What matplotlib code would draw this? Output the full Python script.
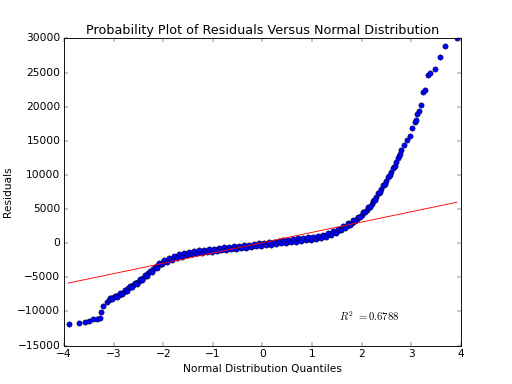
import matplotlib
matplotlib.use('Agg')
import matplotlib.pyplot as plt

# Lower tail (sparse points)
tail_lo_x = [-3.90, -3.69, -3.58, -3.49, -3.41, -3.34, -3.28, -3.25, -3.21, -3.14]
tail_lo_y = [-11840, -11640, -11540, -11400, -11150, -11050, -10900, -10130, -9200, -8570]

# Dense central band (centre of the band)
band_x = [-3.10, -3.05, -3.00, -2.95, -2.90, -2.85, -2.80, -2.75, -2.70, -2.65,
          -2.60, -2.55, -2.50, -2.45, -2.40, -2.35, -2.30, -2.25, -2.20, -2.15,
          -2.10, -2.05, -2.00, -1.95, -1.90, -1.85, -1.80, -1.75, -1.70, -1.65,
          -1.60, -1.55, -1.50, -1.45, -1.40, -1.35, -1.30, -1.25, -1.20, -1.15,
          -1.10, -1.05, -1.00, -0.95, -0.90, -0.85, -0.80, -0.75, -0.70, -0.65,
          -0.60, -0.55, -0.50, -0.45, -0.40, -0.35, -0.30, -0.25, -0.20, -0.15,
          -0.10, -0.05, 0.00, 0.05, 0.10, 0.15, 0.20, 0.25, 0.30, 0.35,
          0.40, 0.45, 0.50, 0.55, 0.60, 0.65, 0.70, 0.75, 0.80, 0.85,
          0.90, 0.95, 1.00, 1.05, 1.10, 1.15, 1.20, 1.25, 1.30, 1.35,
          1.40, 1.45, 1.50, 1.55, 1.60, 1.65, 1.70, 1.75, 1.80, 1.85,
          1.90, 1.95, 2.00, 2.05, 2.10, 2.15, 2.20, 2.25, 2.30, 2.35,
          2.40, 2.45, 2.50, 2.55, 2.60, 2.65, 2.70, 2.75, 2.80]
band_y = [-8300, -8100, -7950, -7780, -7590, -7370, -7130, -6890, -6620, -6360,
          -6140, -5900, -5620, -5330, -5030, -4720, -4430, -4130, -3830, -3520,
          -3240, -3000, -2800, -2620, -2440, -2280, -2140, -2010, -1890, -1790,
          -1700, -1610, -1530, -1460, -1390, -1330, -1270, -1220, -1170, -1120,
          -1080, -1040, -1000, -960, -920, -880, -840, -800, -760, -720,
          -680, -630, -590, -550, -510, -470, -430, -380, -340, -290,
          -250, -200, -160, -115, -70, -25, 20, 65, 110, 155,
          200, 245, 290, 335, 380, 425, 470, 515, 560, 605,
          650, 700, 750, 800, 860, 930, 1010, 1110, 1220, 1340,
          1480, 1630, 1800, 1980, 2170, 2370, 2580, 2800, 3030, 3270,
          3530, 3810, 4150, 4500, 4900, 5320, 5780, 6280, 6820, 7400,
          7980, 8530, 9100, 9800, 10500, 11150, 11900, 12800, 13600]

# Band edges (scatter above / below the centre)
edge_x = [-3.075, -3.025, -2.975, -2.925, -2.875, -2.825, -2.775, -2.725, -2.675, -2.625,
          -2.575, -2.525, -2.475, -2.425, -2.375, -2.325, -2.275, -2.225, -2.175, -2.125,
          -2.075, -2.025, -1.975, -1.925, -1.875, -1.825, -1.775, -1.725, -1.675, -1.625,
          -1.575, -1.525, -1.475, -1.425, -1.375, -1.325, -1.275, -1.225, -1.175, -1.125,
          -1.075, -1.025, -0.975, -0.925, -0.875, -0.825, -0.775, -0.725, -0.675, -0.625,
          -0.575, -0.525, -0.475, -0.425, -0.375, -0.325, -0.275, -0.225, -0.175, -0.125,
          -0.075, -0.025, 0.025, 0.075, 0.125, 0.175, 0.225, 0.275, 0.325, 0.375,
          0.425, 0.475, 0.525, 0.575, 0.625, 0.675, 0.725, 0.775, 0.825, 0.875,
          0.925, 0.975, 1.025, 1.075, 1.125, 1.175, 1.225, 1.275, 1.325, 1.375,
          1.425, 1.475, 1.525, 1.575, 1.625, 1.675, 1.725, 1.775, 1.825, 1.875,
          1.925, 1.975, 2.025, 2.075, 2.125, 2.175, 2.225, 2.275, 2.325, 2.375,
          2.425, 2.475, 2.525, 2.575, 2.625, 2.675, 2.725, 2.775]
edge_y = [-8000, -8230, -7670, -7890, -7280, -7450, -6810, -6960, -6290, -6450,
          -5820, -5960, -5280, -5380, -4680, -4780, -4080, -4180, -3480, -3580,
          -2920, -3100, -2510, -2730, -2160, -2410, -1880, -2150, -1640, -1950,
          -1460, -1770, -1300, -1630, -1160, -1500, -1050, -1400, -950, -1300,
          -860, -1220, -780, -1140, -700, -1060, -620, -980, -540, -900,
          -455, -810, -370, -730, -290, -650, -205, -560, -115, -470,
          -25, -380, 63, -292, 153, -202, 242, -113, 332, -23,
          422, 67, 512, 157, 602, 247, 692, 337, 782, 427,
          875, 525, 975, 630, 1095, 770, 1260, 965, 1480, 1210,
          1755, 1515, 2090, 1875, 2470, 2275, 2890, 2715, 3350, 3200,
          3870, 3780, 4525, 4500, 5310, 5350, 6230, 6350, 7310, 7490,
          8455, 8615, 9650, 9950, 11025, 11325, 12550, 13000]

# Upper tail (sparse points)
tail_hi_x = [2.85, 2.91, 2.97, 3.02, 3.07, 3.10, 3.12, 3.16, 3.20, 3.24,
             3.28, 3.33, 3.38, 3.48, 3.58, 3.69, 3.92]
tail_hi_y = [14380, 15120, 15700, 16830, 17800, 18050, 18920, 19410, 20240, 22150,
             22440, 24590, 24970, 25520, 27230, 28890, 30010]

# Least-squares fit line
line_x = [-3.92, 3.92]
line_y = [-5850, 6000]
r2_text = r'$R^2$ $=0.6788$'

plt.style.use('classic')
fig, ax = plt.subplots(figsize=(8, 6))

ax.plot(tail_lo_x + band_x + tail_hi_x, tail_lo_y + band_y + tail_hi_y, 'bo',
        markeredgecolor='k', markeredgewidth=0.5)
ax.plot(edge_x, edge_y, 'bo', markeredgecolor='k', markeredgewidth=0.5)
ax.plot(line_x, line_y, 'r-')
ax.text(1.55, -10700, r2_text, va='center')

ax.set_xlim(-4, 4)
ax.set_ylim(-15000, 30000)
ax.set_title('Probability Plot of Residuals Versus Normal Distribution')
ax.set_xlabel('Normal Distribution Quantiles')
ax.set_ylabel('Residuals')

fig.savefig('out.png', dpi=64)
